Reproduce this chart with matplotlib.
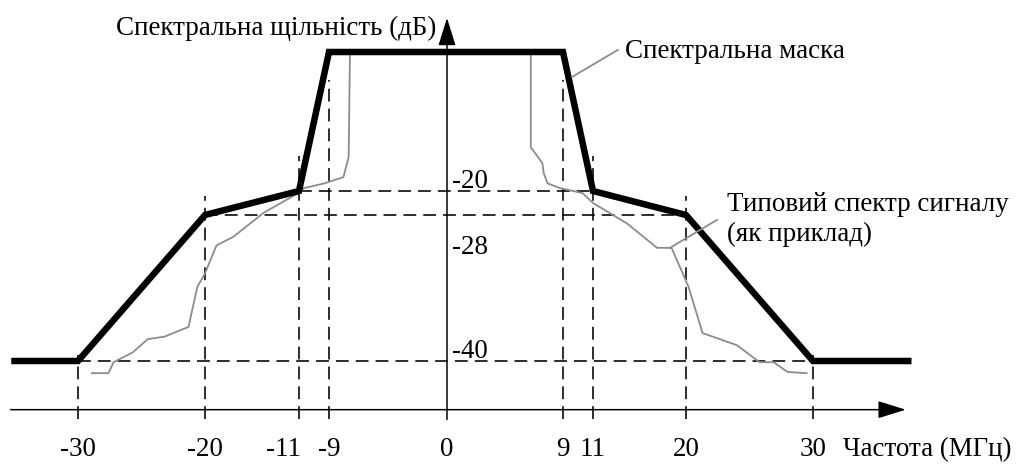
import matplotlib.pyplot as plt
import numpy as np

# spectral mask, MHz / dB
mask_f = [-35, -30, -20, -11, -9, 9, 11, 20, 30, 37.5]
mask_db = [-40, -40, -28, -20, 0, 0, -20, -28, -40, -40]

# typical signal spectrum
sig_f = [-28.9, -27.6, -27.2, -25.7, -24.5, -23.2, -21.3, -20.6, -20.0, -18.9,
         -17.3, -14.4, -10.9, -10.7, -9.3, -7.9, -7.5, -7.4,
         6.5, 6.5, 7.4, 7.5, 7.8, 8.8, 10.3, 11.0, 14.3, 17.2,
         18.6, 20.2, 21.3, 24.0, 25.8, 26.9, 28.0, 29.5]
sig_db = [-41.0, -41.0, -40.1, -39.3, -38.2, -38.0, -37.2, -33.9, -32.8, -30.5,
          -29.8, -27.3, -20.3, -19.6, -18.9, -18.0, -15.1, 0,
          0, -13.7, -16.0, -17.4, -18.9, -19.6, -20.7, -24.0, -28.7, -30.7,
          -30.7, -33.9, -37.7, -38.7, -40.1, -40.1, -40.9, -41.0]

x_ticks = [-30, -20, -11, -9, 0, 9, 11, 20, 30]
x_labels = ['-30', '-20', '-11', '-9', '0', '9', '11', '20', '30']
y_levels = [-20, -28, -40]
y_labels = ['-20', '-28', '-40']

# the drawing is schematic: piecewise scales
fx_data = [-60, -30, -20, -11, -9, 0, 9, 11, 20, 30, 60]
fx_px = [-303, 78, 205, 299, 329, 447, 563, 593, 686, 813, 1194]
fy_data = [-60, -40, -28, -20, 0, 10]
fy_px = [-138.4, 105, 251, 275, 414, 483.5]

W, H = 1026, 466
fig = plt.figure(figsize=(W / 72, H / 72), dpi=72)
ax = fig.add_axes([0, 0, 1, 1])
ax.set_xscale('function', functions=(lambda v: np.interp(v, fx_data, fx_px),
                                     lambda p: np.interp(p, fx_px, fx_data)))
ax.set_yscale('function', functions=(lambda v: np.interp(v, fy_data, fy_px),
                                     lambda p: np.interp(p, fy_px, fy_data)))
ax.set_xlim(np.interp(0, fx_px, fx_data), np.interp(W, fx_px, fx_data))
ax.set_ylim(np.interp(0, fy_px, fy_data), np.interp(H, fy_px, fy_data))
ax.axis('off')

serif = 'Liberation Serif'
fs = 27
axis_db = -44
dash = dict(color='black', lw=1.6, dashes=(8, 4.4))

# guides
guide_top = [-39.5, -21.7, -15, -4, None, -4, -15, -21.7, -39.5]
for t, top in zip(x_ticks, guide_top):
    if top is not None:
        ax.plot([t, t], [-44.8, top], **dash)
for lev, half in zip(y_levels, [11, 20, 30]):
    ax.plot([-half, half], [lev, lev], **dash)

ax.plot(sig_f, sig_db, color='#8c8c8c', lw=1.8)
ax.plot(mask_f, mask_db, color='black', lw=6.5, solid_joinstyle='miter')

# axes with arrows
arr = dict(arrowstyle='-|>,head_length=0.8,head_width=0.25', color='black',
           lw=1.5, mutation_scale=30, shrinkA=0, shrinkB=0)
ax.annotate('', xy=(37.3, axis_db), xytext=(-35.3, axis_db), arrowprops=arr)
ax.annotate('', xy=(0, 4.9), xytext=(0, -44.8), arrowprops=arr)

for t, lab in zip(x_ticks, x_labels):
    dx = -15 if lab == '-11' else 0
    ax.annotate(lab, xy=(t, axis_db), xytext=(dx, -40), textcoords='offset points',
                ha='center', va='center', fontsize=fs, family=serif)
ax.annotate('Частота (МГц)', xy=(30, axis_db), xytext=(30, -40),
            textcoords='offset points', ha='left', va='center',
            fontsize=fs, family=serif)

for lev, lab, dy in zip(y_levels, y_labels, [9, -32, 10]):
    ax.annotate(lab, xy=(0, lev), xytext=(5, dy), textcoords='offset points',
                ha='left', va='center', fontsize=fs, family=serif)

ax.annotate('Спектральна щільність (дБ)', xy=(0, 4.9), xytext=(-11, -10),
            textcoords='offset points', ha='right', va='center',
            fontsize=fs, family=serif)

# callouts
ax.plot([9.6, 13.4], [-3.6, 0.3], color='#8c8c8c', lw=1.8)
ax.annotate('Спектральна маска', xy=(13.4, 0.3), xytext=(7, -2),
            textcoords='offset points', ha='left', va='center',
            fontsize=fs, family=serif)
ax.plot([18.45, 22.44], [-30.7, -28.4], color='#8c8c8c', lw=1.8)
ax.annotate('Типовий спектр сигналу', xy=(22.44, -28.4), xytext=(10, 15),
            textcoords='offset points', ha='left', va='center',
            fontsize=fs, family=serif)
ax.annotate('(як приклад)', xy=(22.44, -28.4), xytext=(10, -15),
            textcoords='offset points', ha='left', va='center',
            fontsize=fs, family=serif)

fig.savefig('out.png', dpi=72)
